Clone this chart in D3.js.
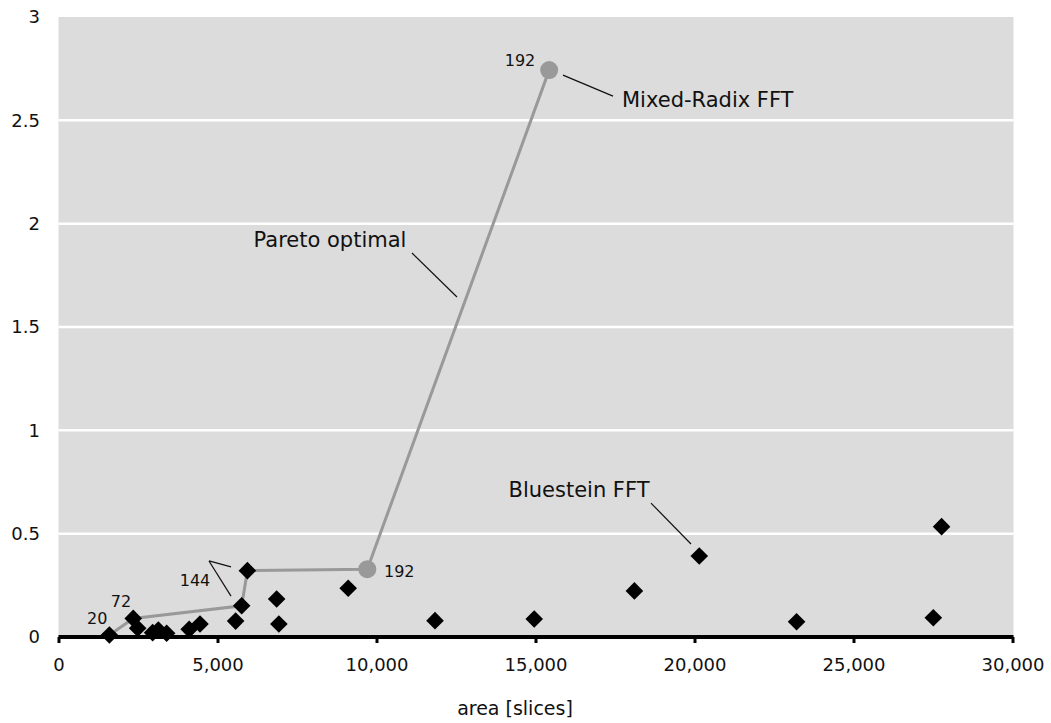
<!DOCTYPE html>
<html lang="en">
  <head>
    <meta charset="UTF-8" />
    <title>Area vs time</title>
    <script src="https://d3js.org/d3.v7.min.js"></script>
    <style>
      body {
        margin: 0;
        background: #fff;
      }
      svg text {
        font-family: "DejaVu Sans", Verdana, sans-serif;
        fill: #111;
      }
    </style>
  </head>
  <body>
    <svg id="svg" width="1051" height="723"></svg>
    <script>
      // all designs (diamonds)
      const areaX = [1600, 2350, 2490, 2960, 3140, 3400, 4110, 4450, 5570, 5760, 5940,
        6860, 6930, 9110, 11840, 14960, 18110, 20150, 23210, 27510, 27770];
      const timeY = [0.01, 0.09, 0.042, 0.021, 0.034, 0.018, 0.037, 0.063, 0.077, 0.151, 0.321,
        0.184, 0.063, 0.236, 0.079, 0.087, 0.223, 0.392, 0.074, 0.093, 0.534];

      // mixed-radix points (grey circles)
      const mixedX = [9710, 15430];
      const mixedY = [0.328, 2.743];

      // pareto front
      const paretoX = [1600, 2350, 5760, 5940, 9710, 15430];
      const paretoY = [0.01, 0.09, 0.151, 0.321, 0.328, 2.743];

      const xTicks = [0, 5000, 10000, 15000, 20000, 25000, 30000];
      const yTicks = [0, 0.5, 1, 1.5, 2, 2.5, 3];

      // labels: text, x, y, anchor, size
      const labels = [
        ["20", 1220, 0.092, "middle", 16],
        ["72", 1965, 0.174, "middle", 16],
        ["144", 4292, 0.276, "middle", 16],
        ["192", 10236, 0.319, "start", 16],
        ["192", 14513, 2.79, "middle", 16],
        ["Mixed-Radix FFT", 17720, 2.598, "start", 21],
        ["Pareto optimal", 8538, 1.925, "middle", 21],
        ["Bluestein FFT", 16368, 0.711, "middle", 21],
      ];
      // leader lines: x1, y1, x2, y2
      const leaders = [
        [4733, 0.368, 5425, 0.339],
        [4733, 0.368, 5425, 0.198],
        [15865, 2.719, 17437, 2.617],
        [11116, 1.858, 12531, 1.645],
        [18632, 0.648, 19890, 0.45],
      ];

      const svg = d3.select("#svg");
      const x = d3.scaleLinear().domain([0, 30000]).range([58.5, 1012.5]);
      const y = d3.scaleLinear().domain([0, 3]).range([637, 17]);

      svg.append("rect")
        .attr("x", x(0)).attr("y", y(3))
        .attr("width", x(30000) - x(0) + 1).attr("height", y(0) - y(3))
        .attr("fill", "#dcdcdc");

      svg.append("g").selectAll("line")
        .data(yTicks.filter(d => d > 0 && d < 3))
        .enter().append("line")
        .attr("x1", x(0)).attr("x2", x(30000) + 1)
        .attr("y1", d => y(d)).attr("y2", d => y(d))
        .attr("stroke", "#fff").attr("stroke-width", 2.5);

      // y labels
      svg.append("g").selectAll("text")
        .data(yTicks)
        .enter().append("text")
        .attr("x", 40).attr("y", d => y(d))
        .attr("dy", "0.35em")
        .attr("text-anchor", "end")
        .style("font-size", "18px")
        .text(d => d);

      // x axis
      const xAxis = svg.append("g")
        .attr("transform", `translate(0,${y(0)})`)
        .call(d3.axisBottom(x).tickValues(xTicks).tickSize(6).tickPadding(15)
          .tickFormat(d3.format(",")));
      xAxis.select(".domain").attr("stroke", "#000").attr("stroke-width", 4)
        .attr("d", `M${x(0)},0H${x(30000) + 1}`);
      xAxis.selectAll(".tick line").attr("stroke", "#000").attr("stroke-width", 3);
      xAxis.selectAll(".tick text")
        .style("font-size", "18px")
        .style("font-family", "'DejaVu Sans', Verdana, sans-serif")
        .attr("fill", "#111");

      svg.append("text")
        .attr("x", 515).attr("y", 708).attr("dy", "0.35em")
        .attr("text-anchor", "middle")
        .style("font-size", "19px")
        .text("area [slices]");

      // pareto line
      const line = d3.line().x(d => x(d[0])).y(d => y(d[1]));
      svg.append("path")
        .datum(d3.zip(paretoX, paretoY))
        .attr("d", line)
        .attr("fill", "none")
        .attr("stroke", "#999")
        .attr("stroke-width", 3);

      svg.append("g").selectAll("circle")
        .data(d3.zip(mixedX, mixedY))
        .enter().append("circle")
        .attr("cx", d => x(d[0])).attr("cy", d => y(d[1]))
        .attr("r", 9)
        .attr("fill", "#999");

      svg.append("g").selectAll("path")
        .data(d3.zip(areaX, timeY))
        .enter().append("path")
        .attr("d", d3.symbol().type(d3.symbolSquare).size(155))
        .attr("transform", d => `translate(${x(d[0])},${y(d[1])}) rotate(45)`)
        .attr("fill", "#000");

      svg.append("g").selectAll("line")
        .data(leaders)
        .enter().append("line")
        .attr("x1", d => x(d[0])).attr("y1", d => y(d[1]))
        .attr("x2", d => x(d[2])).attr("y2", d => y(d[3]))
        .attr("stroke", "#111").attr("stroke-width", 1.2);

      svg.append("g").selectAll("text")
        .data(labels)
        .enter().append("text")
        .attr("x", d => x(d[1])).attr("y", d => y(d[2]))
        .attr("dy", "0.35em")
        .attr("text-anchor", d => d[3])
        .style("font-size", d => d[4] + "px")
        .text(d => d[0]);
    </script>
  </body>
</html>
